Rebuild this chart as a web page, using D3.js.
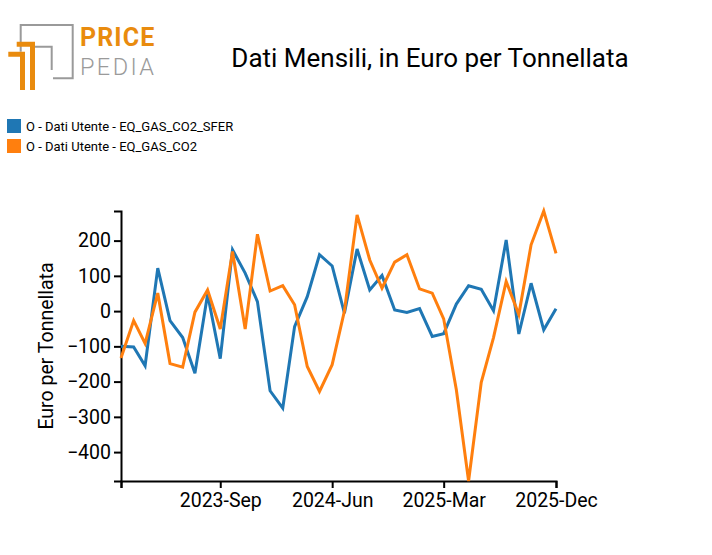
<!DOCTYPE html>
<html>
<head>
<meta charset="utf-8">
<script src="https://cdn.jsdelivr.net/npm/d3@7"></script>
<style>
  body { margin: 0; background: #fff; }
  svg { display: block; font-family: Roboto, sans-serif; }
</style>
</head>
<body>
<svg id="chart" width="712" height="555"></svg>
<script>
const months = d3.timeMonth.range(new Date(2023, 0, 1), new Date(2026, 0, 1));
const seriesNames = ["O - Dati Utente - EQ_GAS_CO2_SFER", "O - Dati Utente - EQ_GAS_CO2"];
const seriesColors = ["#1f77b4", "#ff7f0e"];
const sferValues = [-100, -102, -155, 122, -27, -75, -176, 48, -135, 174, 108, 27,
  -226, -275, -44, 41, 160, 128, -6, 176, 60, 101, 3, -4,
  7, -72, -64, 20, 72, 62, 1, 202, -65, 79, -53, 7];
const co2Values = [-133, -27, -92, 51, -149, -159, -3, 60, -51, 169, -51, 218,
  57, 72, 18, -157, -228, -152, 0, 273, 145, 65, 139, 160,
  63, 51, -22, -223, -482, -202, -75, 84, -10, 188, 284, 164];
const xTickDates = [new Date(2023, 0, 1), new Date(2023, 8, 1), new Date(2024, 5, 1), new Date(2025, 2, 1), new Date(2025, 11, 1)];
const xTickLabels = ["", "2023-Sep", "2024-Jun", "2025-Mar", "2025-Dec"];
const yTicks = [-400, -300, -200, -100, 0, 100, 200];
const titleText = "Dati Mensili, in Euro per Tonnellata";
const yLabel = "Euro per Tonnellata";

const svg = d3.select("#chart");
const margin = { left: 121, right: 156, top: 211, bottom: 481 };

const x = d3.scaleTime().domain(d3.extent(months)).range([margin.left, 712 - margin.right]);
const allVals = sferValues.concat(co2Values);
const y = d3.scaleLinear().domain(d3.extent(allVals)).range([margin.bottom, margin.top]);

// Logo
const logo = svg.append("g");
const gray = "#9a9a9a", orange = "#e98b0e";
logo.append("path").attr("d", "M20.7,51.7 V25 H72.7 V78.3 H53").attr("fill", "none").attr("stroke", gray).attr("stroke-width", 2);
logo.append("path").attr("d", "M30,46.7 H51.7 V70").attr("fill", "none").attr("stroke", gray).attr("stroke-width", 2);
logo.append("path").attr("d", "M16.7,41.7 H35 V90 H30 V46.7 H16.7 Z").attr("fill", orange);
logo.append("path").attr("d", "M8.3,51.7 H25 V90 H20 V56.7 H8.3 Z").attr("fill", orange);
logo.append("text").attr("x", 80).attr("y", 46).attr("font-size", 25).attr("font-weight", 700)
  .attr("letter-spacing", 1.1).attr("fill", orange).text("PRICE");
logo.append("text").attr("x", 80).attr("y", 74.5).attr("font-size", 23.5).attr("font-weight", 300)
  .attr("letter-spacing", 2.4).attr("fill", gray).text("PEDIA");

// Title
svg.append("text").attr("x", 430).attr("y", 67).attr("text-anchor", "middle")
  .attr("font-size", 26).attr("font-weight", 400).attr("fill", "#000").text(titleText);

// Legend
seriesNames.forEach((name, i) => {
  const g = svg.append("g").attr("transform", `translate(7,${119 + i * 20})`);
  g.append("rect").attr("width", 14).attr("height", 14).attr("fill", seriesColors[i]);
  g.append("text").attr("x", 19).attr("y", 12).attr("font-size", 13).attr("font-weight", 400).attr("fill", "#000").text(name);
});

// Axes
const xAxis = d3.axisBottom(x).tickValues(xTickDates).tickFormat((d, i) => xTickLabels[i]).tickSizeOuter(0).tickSize(7);
const gx = svg.append("g").attr("transform", `translate(0,${margin.bottom})`).call(xAxis);
gx.selectAll("text").attr("font-size", 19.5).attr("font-family", "Roboto").attr("font-weight", 400).attr("fill", "#000").attr("y", 12);
gx.select(".domain").attr("stroke", "#000").attr("stroke-width", 2);
gx.selectAll(".tick line").attr("stroke", "#000").attr("stroke-width", 2);

const yAxis = d3.axisLeft(y).tickValues(yTicks).tickSizeOuter(0).tickSize(7);
const gy = svg.append("g").attr("transform", `translate(${margin.left},0)`).call(yAxis);
gy.selectAll("text").attr("font-size", 19.5).attr("font-family", "Roboto").attr("font-weight", 400).attr("fill", "#000");
gy.select(".domain").attr("stroke", "#000").attr("stroke-width", 2);
gy.selectAll(".tick line").attr("stroke", "#000").attr("stroke-width", 2);

svg.append("text").attr("transform", `translate(53,${(margin.top + margin.bottom) / 2}) rotate(-90)`)
  .attr("text-anchor", "middle").attr("font-size", 19.5).attr("font-weight", 400).attr("fill", "#000").text(yLabel);

// Lines
const line = d3.line().x((d, i) => x(months[i])).y(d => y(d));
[sferValues, co2Values].forEach((vals, i) => {
  svg.append("path").datum(vals).attr("d", line).attr("fill", "none")
    .attr("stroke", seriesColors[i]).attr("stroke-width", 3).attr("stroke-linejoin", "miter");
});
</script>
</body>
</html>
